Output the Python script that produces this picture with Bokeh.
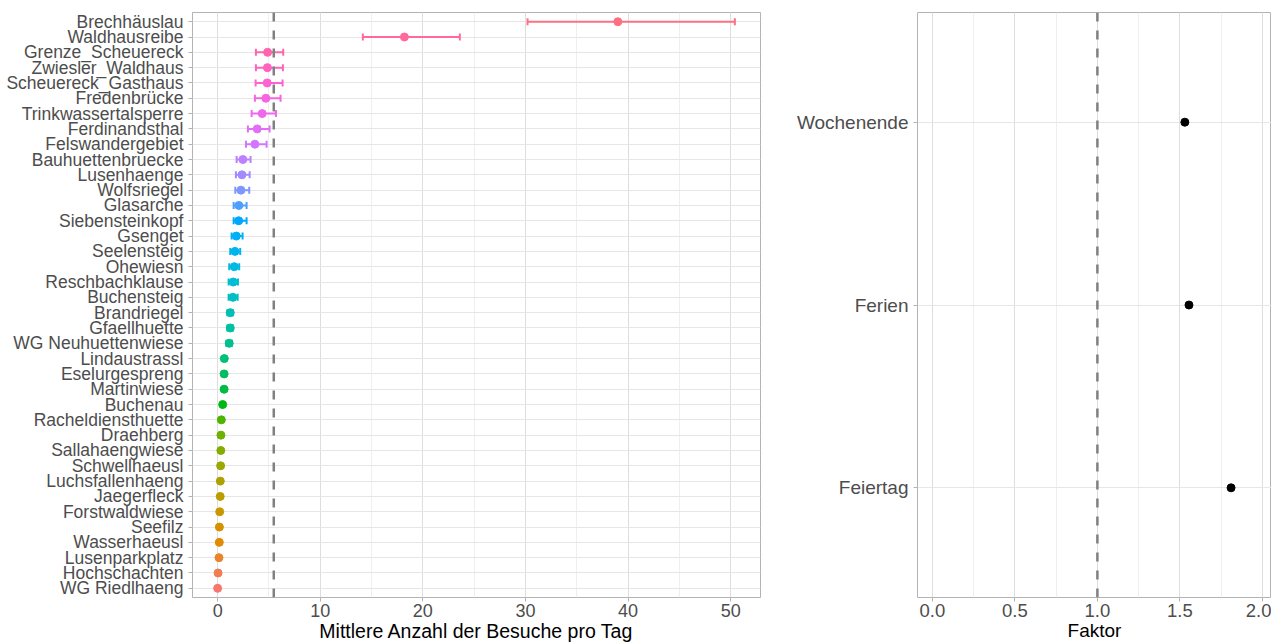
import math
from bokeh.plotting import figure
from bokeh.models import (ColumnDataSource, Span, SingleIntervalTicker, FactorRange, Range1d,
                          PrintfTickFormatter)
from bokeh.layouts import row
from bokeh.embed import file_html
from bokeh.resources import INLINE

# ---------------- data ----------------
stations = ["Brechhäuslau", "Waldhausreibe", "Grenze_Scheuereck", "Zwiesler_Waldhaus",
            "Scheuereck_Gasthaus", "Fredenbrücke", "Trinkwassertalsperre", "Ferdinandsthal",
            "Felswandergebiet", "Bauhuettenbruecke", "Lusenhaenge", "Wolfsriegel", "Glasarche",
            "Siebensteinkopf", "Gsenget", "Seelensteig", "Ohewiesn", "Reschbachklause",
            "Buchensteig", "Brandriegel", "Gfaellhuette", "WG Neuhuettenwiese", "Lindaustrassl",
            "Eselurgespreng", "Martinwiese", "Buchenau", "Racheldiensthuette", "Draehberg",
            "Sallahaengwiese", "Schwellhaeusl", "Luchsfallenhaeng", "Jaegerfleck",
            "Forstwaldwiese", "Seefilz", "Wasserhaeusl", "Lusenparkplatz", "Hochschachten",
            "WG Riedlhaeng"]
mean_visits = [39.0, 18.2, 4.87, 4.85, 4.83, 4.7, 4.34, 3.86, 3.63, 2.46, 2.37, 2.27, 2.07,
               2.05, 1.82, 1.69, 1.62, 1.52, 1.49, 1.23, 1.23, 1.13, 0.65, 0.63, 0.63, 0.49,
               0.36, 0.32, 0.31, 0.29, 0.26, 0.25, 0.20, 0.17, 0.16, 0.13, 0.04, 0.0]
lower_ci = [30.2, 14.15, 3.73, 3.73, 3.70, 3.63, 3.31, 2.95, 2.76, 1.85, 1.78, 1.72, 1.56,
            1.56, 1.36, 1.23, 1.13, 1.07, 1.07, 0.95, 0.95, 0.85, 0.55, 0.53, 0.53, 0.40,
            0.28, 0.25, 0.24, 0.22, 0.20, 0.19, 0.15, 0.12, 0.11, 0.09, 0.01, -0.02]
upper_ci = [50.4, 23.6, 6.39, 6.36, 6.33, 6.13, 5.68, 5.06, 4.77, 3.21, 3.12, 3.08, 2.82,
            2.82, 2.43, 2.20, 2.10, 1.98, 1.95, 1.50, 1.50, 1.40, 0.76, 0.74, 0.74, 0.58,
            0.44, 0.40, 0.39, 0.36, 0.33, 0.32, 0.26, 0.22, 0.21, 0.18, 0.08, 0.04]
overall_mean = 5.47

factor_labels = ["Wochenende", "Ferien", "Feiertag"]
factor_values = [1.53, 1.555, 1.81]
factor_ref = 1.0


# ---------------- ggplot-like hue palette (style) ----------------
def hcl_hex(h, c=100.0, l=65.0):
    hr = math.radians(h)
    U = c * math.cos(hr)
    V = c * math.sin(hr)
    Xn, Yn, Zn = 95.047, 100.0, 108.883
    Y = Yn * ((l + 16) / 116) ** 3
    den = Xn + 15 * Yn + 3 * Zn
    un, vn = 4 * Xn / den, 9 * Yn / den
    u = U / (13 * l) + un
    v = V / (13 * l) + vn
    X = 9.0 * Y * u / (4 * v)
    Z = -X / 3 - 5 * Y + 3 * Y / v
    X, Y, Z = X / 100, Y / 100, Z / 100
    r = 3.240479 * X - 1.537150 * Y - 0.498535 * Z
    g = -0.969256 * X + 1.875992 * Y + 0.041556 * Z
    b = 0.055648 * X - 0.204043 * Y + 1.057311 * Z

    def gam(t):
        t = 12.92 * t if t <= 0.0031308 else 1.055 * (t ** (1 / 2.4)) - 0.055
        return max(0, min(255, int(round(t * 255))))
    return "#%02x%02x%02x" % (gam(r), gam(g), gam(b))


n = len(stations)
# level 1 (bottom row) gets hue 15
colors = [hcl_hex(15 + 360.0 * (n - 1 - i) / n) for i in range(n)]

FONT = "Liberation Sans"
TICK_COL = "#B3B3B3"


def style(p, ylab_size, xlab_size, title_size):
    p.outline_line_color = TICK_COL
    p.outline_line_width = 1
    p.background_fill_color = "white"
    for ax in (p.xaxis, p.yaxis):
        ax.axis_line_color = None
        ax.major_tick_line_color = TICK_COL
        ax.major_tick_out = 4
        ax.major_tick_in = 0
        ax.minor_tick_line_color = None
        ax.major_label_text_font = FONT
        ax.major_label_text_color = "#4D4D4D"
        ax.axis_label_text_font = FONT
        ax.axis_label_text_font_size = title_size
        ax.axis_label_text_font_style = "normal"
        ax.axis_label_text_color = "#000000"
    p.yaxis.major_label_text_font_size = ylab_size
    p.yaxis.major_label_standoff = 5
    p.xaxis.major_label_text_font_size = xlab_size
    p.xaxis.major_label_standoff = 2
    p.xaxis.axis_label_standoff = 0
    p.xgrid.grid_line_color = "#DEDEDE"
    p.xgrid.minor_grid_line_color = "#EFEFEF"
    p.ygrid.grid_line_color = "#E6E6E6"


DASH = "9 9"

# ---------------- left panel ----------------
src = ColumnDataSource(dict(name=stations, mean=mean_visits, lo=lower_ci, hi=upper_ci, color=colors))

p1 = figure(y_range=FactorRange(factors=stations[::-1], range_padding=0.1,
                                range_padding_units="absolute"),
            x_range=Range1d(-2.45, 52.9),
            width=780, height=644, min_border_left=192, min_border_right=20,
            min_border_top=12, min_border_bottom=0,
            output_backend="svg", toolbar_location=None)
p1.xaxis.ticker = SingleIntervalTicker(interval=10, num_minor_ticks=2)
p1.xaxis.axis_label = "Mittlere Anzahl der Besuche pro Tag"
style(p1, "17.5px", "18px", "19.5px")

p1.add_layout(Span(location=overall_mean, dimension="height", line_color="#808080",
                   line_dash=DASH, line_width=2.5))
p1.segment(x0="lo", y0="name", x1="hi", y1="name", line_color="color", line_width=2, source=src)
p1.scatter(x="lo", y="name", marker="dash", angle=math.pi / 2, size=7,
           line_color="color", line_width=2, source=src)
p1.scatter(x="hi", y="name", marker="dash", angle=math.pi / 2, size=7,
           line_color="color", line_width=2, source=src)
p1.scatter(x="mean", y="name", size=8, fill_color="color", line_color="color", source=src)

# ---------------- right panel ----------------
src2 = ColumnDataSource(dict(name=factor_labels, val=factor_values))
p2 = figure(y_range=FactorRange(factors=factor_labels[::-1], range_padding=0.1,
                                range_padding_units="absolute"),
            x_range=Range1d(-0.09, 2.055),
            width=491, height=644, min_border_left=137, min_border_right=0,
            min_border_top=10, min_border_bottom=0,
            output_backend="svg", toolbar_location=None)
p2.xaxis.ticker = SingleIntervalTicker(interval=0.5, num_minor_ticks=2)
p2.xaxis.formatter = PrintfTickFormatter(format="%.1f")
p2.xaxis.axis_label = "Faktor"
style(p2, "19px", "18.5px", "19px")
p2.add_layout(Span(location=factor_ref, dimension="height", line_color="#808080",
                   line_dash=DASH, line_width=2.5))
p2.scatter(x="val", y="name", size=8, fill_color="black", line_color="black", source=src2)

layout = row(p1, p2)
open("out.html", "w").write(file_html(layout, INLINE))
